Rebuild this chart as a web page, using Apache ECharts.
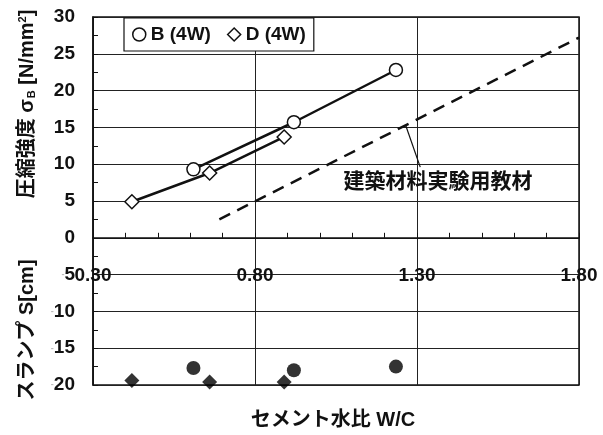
<!DOCTYPE html>
<html>
<head>
<meta charset="utf-8">
<script src="https://cdn.jsdelivr.net/npm/echarts@6/dist/echarts.min.js"></script>
<style>
  html, body { margin: 0; padding: 0; background: #fff; }
  #main { width: 603px; height: 435px; }
</style>
</head>
<body>
<div id="main"></div>
<script>
// セメント水比と圧縮強度・スランプ
const wcB = [0.61, 0.92, 1.235]
const strengthB = [9.3, 15.7, 22.8]
const slumpB = [-17.7, -18.0, -17.5]
const wcD = [0.42, 0.66, 0.89]
const strengthD = [4.9, 8.8, 13.7]
const slumpD = [-19.4, -19.6, -19.6]
// 建築材料実験用教材の線
const refWc = [0.69, 1.80]
const refStrength = [2.5, 27.2]

const FONT = '"Liberation Sans", Arial, "Noto Sans CJK JP", sans-serif'
const INK = '#111'
const Y_MIN = -20
const Y_MAX = 30

const zip = (xs, ys) => xs.map((x, i) => [x, ys[i]])

const GRID_TOP = 17
const GRID_BOTTOM = 50
const plotH = 435 - GRID_TOP - GRID_BOTTOM
// x軸は y=0 の位置に置く
const zeroOffset = -plotH * (0 - Y_MIN) / (Y_MAX - Y_MIN)

const chart = echarts.init(document.getElementById('main'))

const option = {
  animation: false,
  backgroundColor: '#fff',
  textStyle: { fontFamily: FONT, color: INK },
  grid: {
    left: 93,
    right: 24,
    top: GRID_TOP,
    bottom: GRID_BOTTOM,
    show: true,
    borderColor: INK,
    borderWidth: 1.5
  },
  legend: {
    left: 124,
    top: 18,
    padding: [7, 8, 7, 8],
    itemGap: 16,
    itemWidth: 13,
    itemHeight: 13,
    backgroundColor: '#fff',
    borderColor: INK,
    borderWidth: 1.2,
    borderRadius: 0,
    textStyle: { fontSize: 19, fontWeight: 'bold', color: INK, fontFamily: FONT },
    itemStyle: { color: '#fff', borderColor: INK, borderWidth: 1.5 },
    data: [
      { name: 'B (4W)', icon: 'circle' },
      { name: 'D (4W)', icon: 'diamond' }
    ]
  },
  xAxis: {
    type: 'value',
    min: 0.3,
    max: 1.8,
    interval: 0.5,
    offset: zeroOffset,
    axisLine: { onZero: false, lineStyle: { color: INK, width: 1.5 } },
    axisTick: { show: true, inside: true, length: 5, lineStyle: { color: INK } },
    minorTick: { show: true, splitNumber: 5, length: 5, lineStyle: { color: INK } },
    axisLabel: {
      margin: 28,
      fontSize: 19,
      fontWeight: 'bold',
      color: INK,
      fontFamily: FONT,
      showMinLabel: true,
      showMaxLabel: true,
      formatter: (v) => v.toFixed(2)
    },
    splitLine: { show: true, lineStyle: { color: '#222', width: 1 } }
  },
  yAxis: {
    type: 'value',
    min: Y_MIN,
    max: Y_MAX,
    interval: 5,
    axisLine: { show: true, lineStyle: { color: INK, width: 1.5 } },
    axisTick: { show: true, inside: true, length: 5, lineStyle: { color: INK } },
    minorTick: { show: true, splitNumber: 2, length: 5, lineStyle: { color: INK } },
    axisLabel: {
      margin: 18,
      fontSize: 19,
      fontWeight: 'bold',
      color: INK,
      fontFamily: FONT,
      formatter: (v) => (v < 0 ? '{m|-}' + (-v) : String(v)),
      rich: {
        m: { color: '#bbb', fontSize: 9, fontWeight: 'bold' }
      }
    },
    splitLine: { show: true, lineStyle: { color: '#222', width: 1 } }
  },
  series: [
    {
      name: 'B (4W)',
      type: 'line',
      data: zip(wcB, strengthB),
      symbol: 'circle',
      symbolSize: 13,
      lineStyle: { color: INK, width: 2.5 },
      itemStyle: { color: '#fff', borderColor: INK, borderWidth: 1.5 },
      z: 3
    },
    {
      name: 'D (4W)',
      type: 'line',
      data: zip(wcD, strengthD),
      symbol: 'diamond',
      symbolSize: 14,
      lineStyle: { color: INK, width: 2.5 },
      itemStyle: { color: '#fff', borderColor: INK, borderWidth: 1.5 },
      z: 3
    },
    {
      name: '建築材料実験用教材',
      type: 'line',
      data: zip(refWc, refStrength),
      symbol: 'none',
      lineStyle: { color: INK, width: 2.5, type: [12, 8] },
      z: 2
    },
    {
      name: 'B スランプ',
      type: 'scatter',
      data: zip(wcB, slumpB),
      symbol: 'circle',
      symbolSize: 14,
      itemStyle: { color: '#000' },
      z: 3
    },
    {
      name: 'D スランプ',
      type: 'scatter',
      data: zip(wcD, slumpD),
      symbol: 'diamond',
      symbolSize: 15,
      itemStyle: { color: '#000' },
      z: 3
    }
  ]
}

chart.setOption(option)

// 注記・軸タイトル
const refAt = (x) => refStrength[0] + (refStrength[1] - refStrength[0]) * (x - refWc[0]) / (refWc[1] - refWc[0])
const leadFrom = chart.convertToPixel({ gridIndex: 0 }, [1.265, refAt(1.265)])
const leadTo = chart.convertToPixel({ gridIndex: 0 }, [1.31, 9.6])
const notePos = chart.convertToPixel({ gridIndex: 0 }, [1.365, 7.6])

const titleStyle = {
  fontFamily: FONT,
  fontWeight: 'bold',
  fill: INK,
  align: 'center',
  verticalAlign: 'middle'
}

chart.setOption({
  graphic: [
    {
      type: 'line',
      shape: { x1: leadFrom[0], y1: leadFrom[1], x2: leadTo[0], y2: leadTo[1] },
      style: { stroke: INK, lineWidth: 1.2 },
      z: 10
    },
    {
      type: 'text',
      x: notePos[0],
      y: notePos[1],
      style: Object.assign({}, titleStyle, { text: '建築材料実験用教材', fontSize: 21 }),
      z: 10
    },
    {
      type: 'text',
      x: 27,
      y: 104,
      rotation: Math.PI / 2,
      style: Object.assign({}, titleStyle, {
        text: '圧縮強度 σ{s|B} [N/mm{p|2}]',
        fontSize: 20,
        rich: {
          s: { fontSize: 11, fontWeight: 'bold', verticalAlign: 'bottom', padding: [8, 0, 0, 1] },
          p: { fontSize: 11, fontWeight: 'bold', verticalAlign: 'top', padding: [0, 0, 8, 0] }
        }
      }),
      z: 10
    },
    {
      type: 'text',
      x: 27,
      y: 330,
      rotation: Math.PI / 2,
      style: Object.assign({}, titleStyle, { text: 'スランプ S[cm]', fontSize: 20 }),
      z: 10
    },
    {
      type: 'text',
      x: 333,
      y: 420,
      style: Object.assign({}, titleStyle, { text: 'セメント水比 W/C', fontSize: 20 }),
      z: 10
    }
  ]
})
</script>
</body>
</html>
